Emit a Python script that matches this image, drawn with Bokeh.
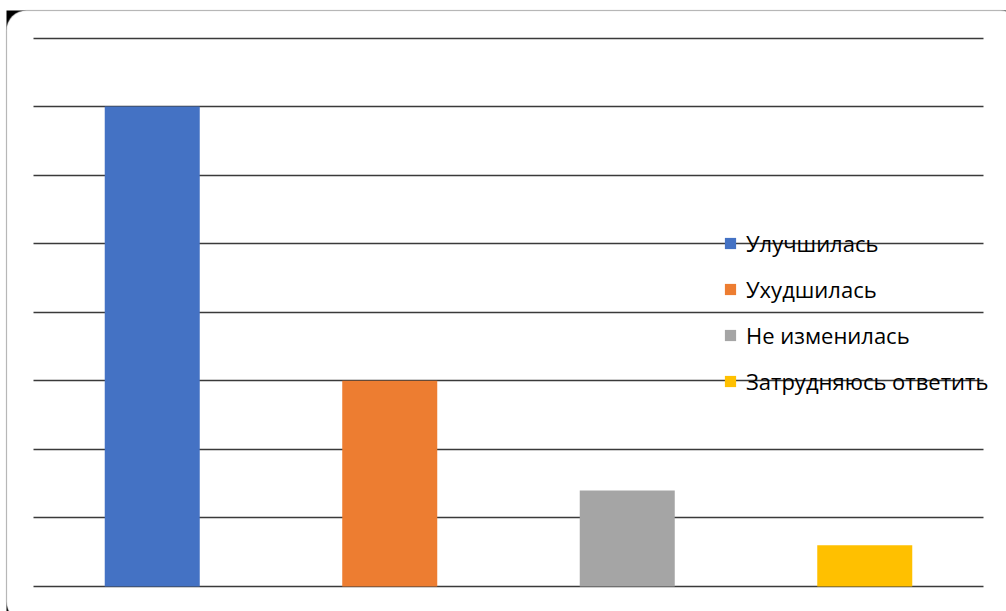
from bokeh.plotting import figure
from bokeh.models import (ColumnDataSource, Range1d, FixedTicker,
                          Legend, LegendItem, BoxAnnotation)
from bokeh.embed import file_html
from bokeh.resources import INLINE

# Survey answers and their shares
categories = ["Улучшилась", "Ухудшилась", "Не изменилась", "Затрудняюсь ответить"]
values = [7.0, 3.0, 1.4, 0.6]
colors = ["#4472C4", "#ED7D31", "#A5A5A5", "#FFC000"]
grid_ticks = [0, 1, 2, 3, 4, 5, 6, 7, 8]

W, H = 1006, 611
source = ColumnDataSource(data=dict(
    x=list(range(len(categories))), cat=categories, val=values, color=colors))

# Plot area spans the whole canvas; the ranges leave room around the
# category band (-0.5 .. 3.5) and the value band (0 .. 8).
p = figure(
    width=W, height=H,
    x_range=Range1d(-0.6389, 3.5968),
    y_range=Range1d(-0.3646, 8.547),
    x_axis_location=None, y_axis_location=None,
    output_backend="svg", toolbar_location=None,
    min_border=0,
)
p.outline_line_color = None
p.background_fill_color = "white"
p.border_fill_color = "white"

# Card behind the chart: dark corners under a white rounded panel
card = dict(left=6, right=W + 14, bottom=-10, top=H - 10,
            left_units="screen", right_units="screen",
            bottom_units="screen", top_units="screen", level="image")
p.add_layout(BoxAnnotation(fill_color="black", fill_alpha=1, line_color=None, **card))
p.add_layout(BoxAnnotation(fill_color="white", fill_alpha=1, line_color="#a6a6a6",
                           line_width=1.5, border_radius=20, **card))

p.xgrid.visible = False
p.ygrid.ticker = FixedTicker(ticks=grid_ticks)
p.ygrid.cross_bounds = (-0.5, len(categories) - 0.5)
p.ygrid.grid_line_color = "#3a3a3a"
p.ygrid.grid_line_width = 1.3

bars = p.vbar(x="x", top="val", bottom=0, width=0.4, source=source,
              fill_color="color", line_color=None)

items = [LegendItem(label=c, renderers=[bars], index=i) for i, c in enumerate(categories)]
legend = Legend(
    items=items, location=(723, 213), orientation="vertical",
    background_fill_alpha=0, border_line_color=None,
    glyph_width=14, glyph_height=14, label_standoff=9,
    label_text_font="Open Sans", label_text_font_size="22px",
    label_text_color="#000000", label_height=34, spacing=12,
    padding=0, margin=0,
)
p.add_layout(legend, "center")

open("out.html", "w").write(file_html(p, INLINE))
